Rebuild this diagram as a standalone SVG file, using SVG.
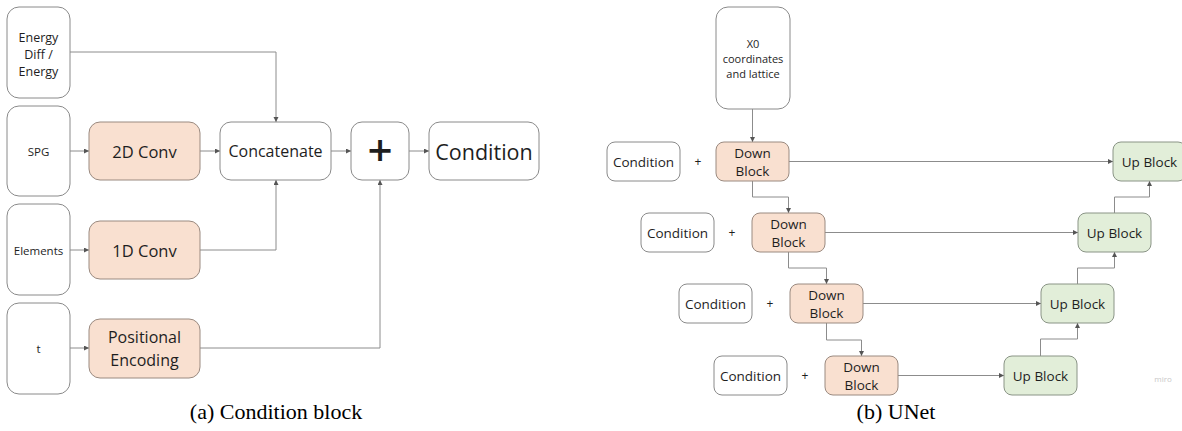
<svg xmlns="http://www.w3.org/2000/svg" width="1182" height="431" viewBox="0 0 1182 431">
<defs>
<marker id="arr" markerUnits="userSpaceOnUse" markerWidth="6" markerHeight="6" refX="5" refY="2.5" orient="auto">
<path d="M0,0 L5,2.5 L0,5 z" fill="#555"/>
</marker>
<style>
.box{fill:#fff;stroke:#8a8a8a;stroke-width:1}
.peach{fill:#f9e0d0;stroke:#9a8a80;stroke-width:1}
.green{fill:#e2eed9;stroke:#8a9486;stroke-width:1}
.t{font-family:"Open Sans","DejaVu Sans",sans-serif;fill:#1e1e1e;text-anchor:middle;dominant-baseline:central}
.con{fill:none;stroke:#8c8c8c;stroke-width:1;marker-end:url(#arr)}
.cap{font-family:"Liberation Serif","Times New Roman",serif;font-size:22px;fill:#000;text-anchor:middle}
</style>
</defs>
<rect width="1182" height="431" fill="#fff"/>

<g id="connectors">
<path class="con" d="M70,52 H276 V122"/>
<path class="con" d="M70,151 H89"/>
<path class="con" d="M200,151 H220"/>
<path class="con" d="M70,250 H89"/>
<path class="con" d="M200,250 H276 V180"/>
<path class="con" d="M70,348 H89"/>
<path class="con" d="M200,348 H380 V180"/>
<path class="con" d="M331,151 H351"/>
<path class="con" d="M409,151 H429"/>

<path class="con" d="M752.5,109 V142"/>
<path class="con" d="M752.5,181 V197 H788.5 V213"/>
<path class="con" d="M788.5,252 V268 H826.5 V284"/>
<path class="con" d="M826.5,323 V340 H861.5 V356"/>
<path class="con" d="M789,161.5 H1113"/>
<path class="con" d="M825,232.5 H1078"/>
<path class="con" d="M863,303.5 H1041"/>
<path class="con" d="M898,375.5 H1004"/>
<path class="con" d="M1040.5,356 V339 H1077.5 V323"/>
<path class="con" d="M1077.5,284 V268 H1114.5 V252"/>
<path class="con" d="M1114.5,213 V197 H1149.5 V181"/>
</g>

<g id="energy"><rect class="box" x="7" y="7" width="63" height="91" rx="12"/>
<text class="t" font-size="12.5"><tspan x="38.5" y="37">Energy</tspan><tspan x="38.5" y="54">Diff /</tspan><tspan x="38.5" y="71">Energy</tspan></text></g>
<g id="spg"><rect class="box" x="7" y="106" width="63" height="90" rx="12"/>
<text class="t" font-size="11.5" x="38.5" y="151">SPG</text></g>
<g id="elements"><rect class="box" x="7" y="204" width="63" height="91" rx="12"/>
<text class="t" font-size="11.5" x="38.5" y="250">Elements</text></g>
<g id="t"><rect class="box" x="7" y="303" width="63" height="91" rx="12"/>
<text class="t" font-size="11.5" x="38.5" y="348">t</text></g>
<g id="conv2d"><rect class="peach" x="89" y="122" width="111" height="58" rx="11"/>
<text class="t" font-size="16.5" x="144.5" y="151">2D Conv</text></g>
<g id="conv1d"><rect class="peach" x="89" y="221" width="111" height="58" rx="11"/>
<text class="t" font-size="16.5" x="144.5" y="250">1D Conv</text></g>
<g id="posenc"><rect class="peach" x="89" y="319" width="111" height="59" rx="11"/>
<text class="t" font-size="16"><tspan x="144.5" y="337">Positional</tspan><tspan x="144.5" y="360">Encoding</tspan></text></g>
<g id="concat"><rect class="box" x="220" y="122" width="111" height="58" rx="11"/>
<text class="t" font-size="16" x="275.5" y="151">Concatenate</text></g>
<g id="plus"><rect class="box" x="351" y="122" width="58" height="58" rx="11"/>
<text class="t" font-size="44" font-weight="600" x="380" y="149">+</text></g>
<g id="condition"><rect class="box" x="429" y="122" width="110" height="58" rx="11"/>
<text class="t" font-size="21.5" x="484" y="151">Condition</text></g>

<g id="x0"><rect class="box" x="716" y="7" width="74" height="102" rx="12"/>
<text class="t" font-size="11"><tspan x="753" y="43">X0</tspan><tspan x="753" y="58">coordinates</tspan><tspan x="753" y="73">and lattice</tspan></text></g>

<g id="cond1"><rect class="box" x="607" y="142" width="73" height="39" rx="8"/>
<text class="t" font-size="13.5" x="643.5" y="161.5">Condition</text><text class="t" font-size="12" x="698" y="161.5">+</text></g>
<g id="down1"><rect class="peach" x="716" y="142" width="73" height="39" rx="8"/>
<text class="t" font-size="13.5"><tspan x="752.5" y="153">Down</tspan><tspan x="752.5" y="171">Block</tspan></text></g>
<g id="cond2"><rect class="box" x="641" y="213" width="73" height="39" rx="8"/>
<text class="t" font-size="13.5" x="677.5" y="232.5">Condition</text><text class="t" font-size="12" x="732" y="232.5">+</text></g>
<g id="down2"><rect class="peach" x="752" y="213" width="73" height="39" rx="8"/>
<text class="t" font-size="13.5"><tspan x="788.5" y="224">Down</tspan><tspan x="788.5" y="242">Block</tspan></text></g>
<g id="cond3"><rect class="box" x="679" y="284" width="73" height="39" rx="8"/>
<text class="t" font-size="13.5" x="715.5" y="303.5">Condition</text><text class="t" font-size="12" x="770" y="303.5">+</text></g>
<g id="down3"><rect class="peach" x="790" y="284" width="73" height="39" rx="8"/>
<text class="t" font-size="13.5"><tspan x="826.5" y="295">Down</tspan><tspan x="826.5" y="313">Block</tspan></text></g>
<g id="cond4"><rect class="box" x="714" y="356" width="73" height="39" rx="8"/>
<text class="t" font-size="13.5" x="750.5" y="375.5">Condition</text><text class="t" font-size="12" x="805" y="375.5">+</text></g>
<g id="down4"><rect class="peach" x="825" y="356" width="73" height="39" rx="8"/>
<text class="t" font-size="13.5"><tspan x="861.5" y="367">Down</tspan><tspan x="861.5" y="385">Block</tspan></text></g>

<g id="up1"><rect class="green" x="1113" y="142" width="73" height="39" rx="8"/>
<text class="t" font-size="13.5" x="1149.5" y="161.5">Up Block</text></g>
<g id="up2"><rect class="green" x="1078" y="213" width="73" height="39" rx="8"/>
<text class="t" font-size="13.5" x="1114.5" y="232.5">Up Block</text></g>
<g id="up3"><rect class="green" x="1041" y="284" width="73" height="39" rx="8"/>
<text class="t" font-size="13.5" x="1077.5" y="303.5">Up Block</text></g>
<g id="up4"><rect class="green" x="1004" y="356" width="73" height="39" rx="8"/>
<text class="t" font-size="13.5" x="1040.5" y="375.5">Up Block</text></g>

<text class="t" font-size="8" x="1163" y="378" style="fill:#c8c8c8">miro</text>

<text class="cap" x="276" y="419">(a) Condition block</text>
<text class="cap" x="896" y="419">(b) UNet</text>
</svg>
